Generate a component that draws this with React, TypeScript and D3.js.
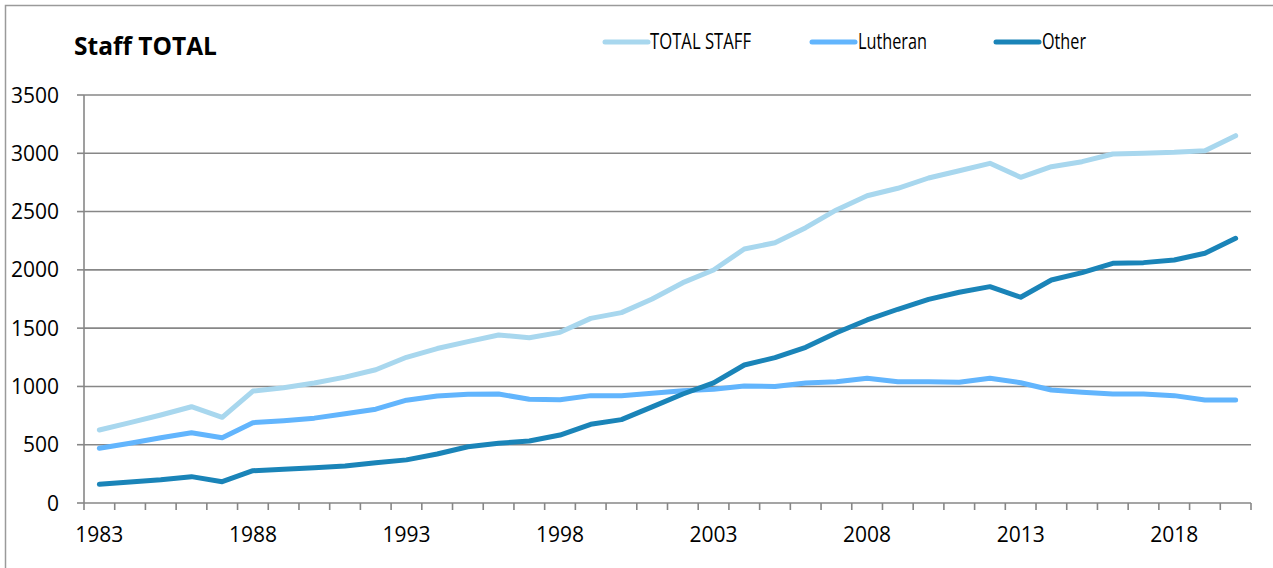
import React from "react";
import * as d3 from "d3";

const years: number[] = [
  1983, 1984, 1985, 1986, 1987, 1988, 1989, 1990, 1991, 1992,
  1993, 1994, 1995, 1996, 1997, 1998, 1999, 2000, 2001, 2002,
  2003, 2004, 2005, 2006, 2007, 2008, 2009, 2010, 2011, 2012,
  2013, 2014, 2015, 2016, 2017, 2018, 2019, 2020,
];

const totalStaff: number[] = [
  626, 689, 755, 826, 735, 960, 989, 1030, 1080, 1143,
  1250, 1325, 1384, 1441, 1418, 1464, 1584, 1633, 1750, 1890,
  1999, 2179, 2233, 2362, 2514, 2636, 2700, 2788, 2850, 2914,
  2794, 2885, 2928, 2994, 3000, 3008, 3022, 3151,
];

const lutheran: number[] = [
  469, 512, 560, 603, 560, 689, 706, 728, 765, 805,
  882, 918, 932, 935, 890, 886, 921, 921, 941, 963,
  975, 1004, 1000, 1030, 1041, 1070, 1041, 1041, 1035, 1070,
  1032, 969, 950, 935, 935, 921, 884, 884,
];

const other: number[] = [
  160, 180, 200, 226, 183, 277, 289, 303, 317, 346,
  370, 420, 483, 512, 532, 583, 675, 715, 825, 935,
  1030, 1184, 1247, 1336, 1461, 1570, 1662, 1747, 1808, 1856,
  1765, 1913, 1976, 2056, 2062, 2085, 2142, 2271,
];

const yTicks: number[] = [0, 500, 1000, 1500, 2000, 2500, 3000, 3500];
const xLabelYears: number[] = [1983, 1988, 1993, 1998, 2003, 2008, 2013, 2018];

const seriesNames: string[] = ["TOTAL STAFF", "Lutheran", "Other"];
const seriesColors: string[] = ["#a8d7ee", "#62b5fd", "#1a84b8"];

const W = 1273;
const H = 568;
const FONT = "'Open Sans', 'Noto Sans', sans-serif";

export default function App() {
  const left = 84;
  const right = 1251;
  const top = 95;
  const bottom = 503;

  const x = d3
    .scaleBand<number>()
    .domain(years)
    .range([left, right])
    .paddingInner(0)
    .paddingOuter(0);
  const y = d3.scaleLinear().domain([0, 3500]).range([bottom, top]);

  const cx = (yr: number) => (x(yr) as number) + x.bandwidth() / 2;

  const allSeries = [totalStaff, lutheran, other];

  const line = d3
    .line<number>()
    .x((_, i) => cx(years[i]))
    .y((v) => y(v));

  const boundaries = years.map((yr) => x(yr) as number).concat([right]);

  const legendItems = [
    { lx1: 605, lx2: 648, tx: 650, tw: 101 },
    { lx1: 812, lx2: 855, tx: 858, tw: 69 },
    { lx1: 996, lx2: 1039, tx: 1042, tw: 44 },
  ];

  return (
    <svg
      width={W}
      height={H}
      style={{ position: "absolute", left: 0, top: 0, background: "#fff" }}
      fontFamily={FONT}
    >
      <rect x={0} y={0} width={W} height={H} fill="#ffffff" />
      {/* outer chart border */}
      <rect
        x={5.5}
        y={5.5}
        width={W + 20}
        height={H + 20}
        fill="none"
        stroke="#9a9a9a"
        strokeWidth={1.5}
      />

      {/* title */}
      <text x={74} y={55} fontSize={24.5} fontWeight="bold" fill="#000">
        Staff TOTAL
      </text>

      {/* gridlines */}
      {yTicks
        .filter((t) => t > 0)
        .map((t) => (
          <line
            key={"g" + t}
            x1={left}
            x2={right}
            y1={y(t)}
            y2={y(t)}
            stroke="#878787"
            strokeWidth={1.6}
          />
        ))}

      {/* y axis */}
      <line x1={left} x2={left} y1={top} y2={bottom} stroke="#878787" strokeWidth={1.6} />
      {yTicks.map((t) => (
        <g key={"yt" + t}>
          <line x1={left - 7} x2={left} y1={y(t)} y2={y(t)} stroke="#878787" strokeWidth={1.6} />
          <text
            x={59}
            y={y(t)}
            dy="0.36em"
            textAnchor="end"
            fontSize={21}
            fill="#000"
          >
            {t}
          </text>
        </g>
      ))}

      {/* x axis */}
      <line x1={left} x2={right} y1={bottom} y2={bottom} stroke="#878787" strokeWidth={1.6} />
      {boundaries.map((bx, i) => (
        <line
          key={"xt" + i}
          x1={bx}
          x2={bx}
          y1={bottom}
          y2={bottom + 7}
          stroke="#878787"
          strokeWidth={1.6}
        />
      ))}
      {xLabelYears.map((yr) => (
        <text
          key={"xl" + yr}
          x={cx(yr)}
          y={542}
          textAnchor="middle"
          fontSize={21}
          fill="#000"
        >
          {yr}
        </text>
      ))}

      {/* series */}
      {allSeries.map((s, i) => (
        <path
          key={"s" + i}
          d={line(s) || ""}
          fill="none"
          stroke={seriesColors[i]}
          strokeWidth={5}
          strokeLinejoin="round"
          strokeLinecap="round"
        />
      ))}

      {/* legend */}
      {legendItems.map((it, i) => (
        <g key={"lg" + i}>
          <line
            x1={it.lx1}
            x2={it.lx2}
            y1={42}
            y2={42}
            stroke={seriesColors[i]}
            strokeWidth={5}
            strokeLinecap="round"
          />
          <text
            x={it.tx}
            y={49}
            fontSize={21}
            fill="#000"
            textLength={it.tw}
            lengthAdjust="spacingAndGlyphs"
          >
            {seriesNames[i]}
          </text>
        </g>
      ))}
    </svg>
  );
}
